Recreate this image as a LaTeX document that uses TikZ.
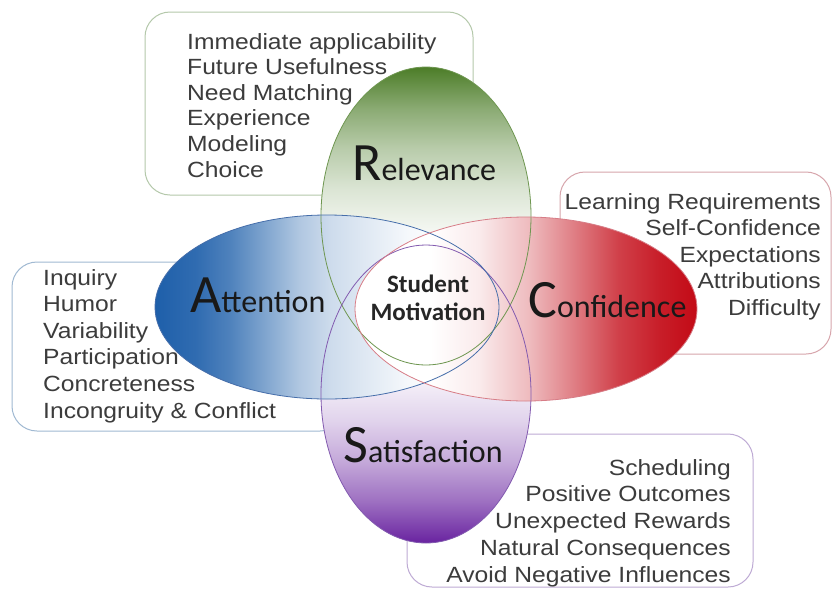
\documentclass[tikz,border=0pt]{standalone}
\usepackage{fontspec}
\setmainfont{Liberation Sans}[FakeStretch=1.12]
\newfontfamily\capsfont{Carlito}

\definecolor{relgreen}{RGB}{76,125,40}
\definecolor{attblue}{RGB}{30,95,170}
\definecolor{confred}{RGB}{195,10,22}
\definecolor{satpurple}{RGB}{105,35,160}
\definecolor{listgray}{RGB}{60,60,60}
% borders
\definecolor{relline}{RGB}{110,150,80}
\definecolor{attline}{RGB}{70,110,170}
\definecolor{confline}{RGB}{215,125,135}
\definecolor{satline}{RGB}{130,90,175}
\definecolor{relbox}{RGB}{180,200,170}
\definecolor{attbox}{RGB}{160,185,210}
\definecolor{confbox}{RGB}{215,165,172}
\definecolor{satbox}{RGB}{190,170,212}

% fades from the dark end of each ellipse to white (path box = 25bp..75bp)
\pgfdeclareverticalshading{relfade}{100bp}{color(0bp)=(white); color(40bp)=(white);
  color(47.5bp)=(relgreen!6); color(54.5bp)=(relgreen!20); color(61.5bp)=(relgreen!40);
  color(68bp)=(relgreen!65); color(75bp)=(relgreen); color(100bp)=(relgreen)}
\pgfdeclareverticalshading{satfade}{100bp}{color(0bp)=(satpurple); color(25bp)=(satpurple);
  color(32bp)=(satpurple!65); color(38.5bp)=(satpurple!40); color(45.5bp)=(satpurple!20);
  color(52.5bp)=(satpurple!6); color(60bp)=(white); color(100bp)=(white)}
\pgfdeclarehorizontalshading{attfade}{100bp}{color(0bp)=(attblue); color(25bp)=(attblue);
  color(31bp)=(attblue!92); color(36bp)=(attblue!78); color(46bp)=(attblue!35);
  color(50.5bp)=(attblue!22); color(62bp)=(attblue!4); color(68bp)=(white); color(100bp)=(white)}
\pgfdeclarehorizontalshading{conffade}{100bp}{color(0bp)=(white); color(36bp)=(white);
  color(43bp)=(confred!8); color(50.5bp)=(confred!28); color(55bp)=(confred!45);
  color(63.5bp)=(confred!78); color(69.5bp)=(confred!92); color(75bp)=(confred); color(100bp)=(confred)}

\tikzset{
  listbox/.style={rounded corners=25pt, fill=white, line width=1pt},
  listtext/.style={font=\fontsize{22}{26}\selectfont, text=listgray, inner sep=0pt},
  bigword/.style={font=\capsfont, text=black!90, inner sep=0pt, anchor=base west},
  rim/.style={line width=0.8pt, draw=#1},
}
\newcommand{\bigname}[2]{{\fontsize{54}{54}\selectfont #1}{\fontsize{32}{32}\selectfont #2}}

\begin{document}
\begin{tikzpicture}[x=1pt, y=-1pt]
  \fill[white] (0,0) rectangle (832,590);
  \useasboundingbox (0,0) rectangle (832,590);

  % rounded list boxes behind the ellipses
  \draw[listbox, draw=relbox] (145,12) rectangle (473,195);
  \draw[listbox, draw=confbox] (560,172) rectangle (831,354);
  \draw[listbox, draw=attbox] (12,262) rectangle (345,431);
  \draw[listbox, draw=satbox] (407,434) rectangle (753,587);

  % shaded ellipses
  \shade[shading=relfade] (426,216) ellipse [x radius=105, y radius=149];
  \shade[shading=satfade] (426,394) ellipse [x radius=105, y radius=149];
  \shade[shading=attfade] (327,307) ellipse [x radius=172, y radius=92];
  \shade[shading=conffade] (526,309) ellipse [x radius=171, y radius=92];

  % outlines on top
  \draw[rim=relline] (426,216) ellipse [x radius=105, y radius=149];
  \draw[rim=satline] (426,394) ellipse [x radius=105, y radius=149];
  \draw[rim=attline] (327,307) ellipse [x radius=172, y radius=92];
  \draw[rim=confline] (526,309) ellipse [x radius=171, y radius=92];

  % big names
  \node[bigword] (relevance) at (352,180) {\bigname{R}{elevance}};
  \node[bigword] (attention) at (190,312) {\bigname{A}{ttention}};
  \node[bigword] (confidence) at (528,317) {\bigname{C}{onfidence}};
  \node[bigword] (satisfaction) at (343,462) {\bigname{S}{atisfaction}};
  \node[font=\capsfont\bfseries\fontsize{25}{28}\selectfont, align=center, inner sep=0pt, text=black!85]
    (motivation) at (428,298) {Student\\Motivation};

  % lists
  \foreach \txt [count=\i from 0] in {Immediate applicability, Future Usefulness, Need Matching,
      Experience, Modeling, Choice}
    \node[listtext, anchor=base west] (rel\i) at (187,{49+25.6*\i}) {\txt};
  \foreach \txt [count=\i from 0] in {Learning Requirements, Self-Confidence, Expectations,
      Attributions, Difficulty}
    \node[listtext, anchor=base east] (conf\i) at (821,{209+26.5*\i}) {\txt};
  \foreach \txt [count=\i from 0] in {Inquiry, Humor, Variability, Participation,
      Concreteness, Incongruity \& Conflict}
    \node[listtext, anchor=base west] (att\i) at (43,{285+26.6*\i}) {\txt};
  \foreach \txt [count=\i from 0] in {Scheduling, Positive Outcomes, Unexpected Rewards,
      Natural Consequences, Avoid Negative Influences}
    \node[listtext, anchor=base east] (sat\i) at (731,{475+26.75*\i}) {\txt};
\end{tikzpicture}
\end{document}
